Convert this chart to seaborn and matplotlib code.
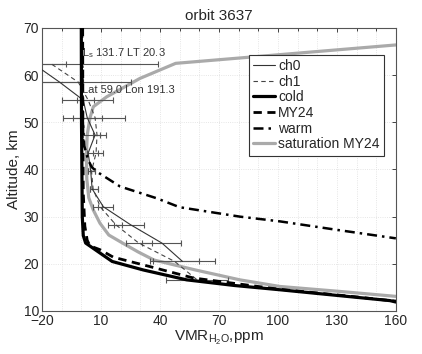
import numpy as np
import pandas as pd
import matplotlib
matplotlib.use("Agg")
import matplotlib.pyplot as plt
import seaborn as sns
from matplotlib.ticker import MultipleLocator

sns.set_theme(style="white")
plt.rcParams['font.family'] = ['Liberation Sans', 'DejaVu Sans']
plt.rcParams['mathtext.fontset'] = 'custom'
plt.rcParams['mathtext.rm'] = 'Liberation Sans'
plt.rcParams['mathtext.it'] = 'Liberation Sans'

# ---- retrieved profiles (ch0, ch1) ----
ret_alt = [62.3, 58.5, 54.7, 51.0, 47.3, 43.5, 39.6, 35.9, 32.1, 28.3, 24.4, 20.5]
ch0_vmr = [-24, -11, 1.0, 3.0, 7.0, 3.5, 4.8, 5.5, 11.2, 25.0, 41.0, 51.5]
ch0_lo = [16, 30, 11.0, 12.5, 6.0, 0.8, 1.3, 1.2, 5.1, 8.2, 10.3, 14.9]
ch0_hi = [16, 12, 5.6, 7.3, 2.5, 5.1, 2.2, 3.1, 5.1, 7.0, 9.7, 16.5]

ret1_alt = [62.3, 58.5, 54.7, 51.0, 47.3, 43.5, 39.6, 35.9, 32.1, 28.3, 24.4, 20.5, 16.6]
ch1_vmr = [-15, -1.5, 3.5, 7.0, 8.0, 7.5, 5.2, 6.0, 9.6, 17.5, 29.2, 47.5, 58.9]
ch1_lo = [54, 27, 5.9, 11.1, 1.9, 1.4, 1.7, 1.6, 1.0, 4.1, 6.5, 12.6, 15.8]
ch1_hi = [54, 27, 12.8, 15.2, 4.7, 3.7, 1.8, 2.6, 1.1, 3.0, 6.6, 12.5, 15.8]

# ---- model profiles ----
cold_alt = [70, 50, 30, 26, 24.4, 20.5, 18.7, 16.6, 15.4, 14.5, 13.1, 12.2, 11.9]
cold_vmr = [0.0, 0.1, 0.5, 1.0, 2.2, 15.7, 31.5, 53.6, 78, 101, 135, 157, 160]

my24_alt = [70, 50, 35, 28, 25, 23.8, 23.0, 21.4, 19.4, 17.0, 15.9, 14.6, 13.2, 12.3, 12.1]
my24_vmr = [0.7, 0.8, 1.0, 1.8, 3.0, 4.4, 9.5, 16.3, 35, 57, 77, 101, 135, 155, 160]

warm_alt = [70, 50, 45, 42, 40.5, 39.5, 36.4, 33.9, 32.0, 30.0, 29.0, 27.2, 25.4]
warm_vmr = [0.3, 0.8, 1.5, 3.5, 5.3, 8.0, 19.7, 38.3, 50, 80.7, 101, 130, 160]

sat_alt = [66.4, 62.5, 59.3, 55.4, 53.3, 50.9, 47.3, 43.0, 38.0, 34.0, 31.4, 28.6, 26.1,
           24.4, 22.5, 20.8, 18.7, 16.6, 15.2, 14.2, 13.1]
sat_vmr = [160, 48, 29.8, 12.9, 6.1, 4.4, 3.0, 2.6, 2.8, 3.8, 6.1, 9.5, 14.0,
           21.0, 29.0, 37.0, 58.0, 80.7, 101, 130, 160]

x_ticks = [-20, 10, 40, 70, 100, 130, 160]
y_ticks = [10, 20, 30, 40, 50, 60, 70]

fig = plt.figure(figsize=(4.22, 3.54), dpi=100)
ax = fig.add_axes([0.0995, 0.1215, 0.8385, 0.7995])

def line(x, y, **kw):
    sns.lineplot(x=x, y=y, sort=False, estimator=None, ax=ax, **kw)

line(sat_vmr, sat_alt, color='#aaaaaa', lw=2.3, label='saturation MY24', zorder=2)

# error bars
ax.errorbar(ch0_vmr, ret_alt, xerr=[ch0_lo, ch0_hi], fmt='none', ecolor='#555555',
            elinewidth=0.8, capsize=2, capthick=0.8, zorder=3)
ax.errorbar(ch1_vmr, ret1_alt, xerr=[ch1_lo, ch1_hi], fmt='none', ecolor='#555555',
            elinewidth=0.8, capsize=2, capthick=0.8, zorder=3)

line(ch0_vmr, ret_alt, color='#333333', lw=0.8, label='ch0', zorder=4)
line(ch1_vmr, ret1_alt, color='#444444', lw=0.8, linestyle=(0, (4, 3)), label='ch1', zorder=4)
line(cold_vmr, cold_alt, color='black', lw=2.3, label='cold', zorder=6)
line(my24_vmr, my24_alt, color='black', lw=2.0, linestyle=(0, (3, 2)), label='MY24', zorder=5)
line(warm_vmr, warm_alt, color='black', lw=1.8, linestyle=(0, (4, 2, 1, 2)), label='warm', zorder=5)

ax.set_xlim(-20, 160)
ax.set_ylim(10, 70)
ax.set_xticks(x_ticks)
ax.set_yticks(y_ticks)
ax.xaxis.set_minor_locator(MultipleLocator(10))
ax.tick_params(which='both', direction='in', top=True, right=True, labelsize=10,
               length=3, width=0.6, pad=2)
ax.tick_params(which='minor', length=2)
ax.grid(True, which='both', axis='x', linestyle=':', color='#dddddd', lw=0.6)
ax.grid(True, which='major', axis='y', linestyle=':', color='#dddddd', lw=0.6)
for s in ax.spines.values():
    s.set_color('#555555')
    s.set_linewidth(0.8)

ax.set_title('orbit 3637', fontsize=11, pad=6)
ax.set_xlabel(r'VMR$_{\mathrm{H_2O}}$,ppm', fontsize=11, labelpad=1)
ax.set_ylabel('Altitude, km', fontsize=11, labelpad=2)

ax.text(0.3, 64.6, r'L$_\mathrm{s}$ 131.7 LT 20.3', fontsize=8, color='#333333', va='center', ha='left')
ax.text(0.3, 56.9, 'Lat 59.0 Lon 191.3', fontsize=8, color='#333333', va='center', ha='left')

handles, labels = ax.get_legend_handles_labels()
order = ['ch0', 'ch1', 'cold', 'MY24', 'warm', 'saturation MY24']
hmap = dict(zip(labels, handles))
leg = ax.legend([hmap[k] for k in order], order, loc='upper left',
                bbox_to_anchor=(0.585, 0.905), fontsize=10, frameon=True, fancybox=False,
                edgecolor='#333333', framealpha=1, handlelength=1.6, handletextpad=0.2,
                labelspacing=0.12, borderpad=0.3, borderaxespad=0)
leg.get_frame().set_linewidth(0.8)

fig.savefig('out.png', dpi=100)
